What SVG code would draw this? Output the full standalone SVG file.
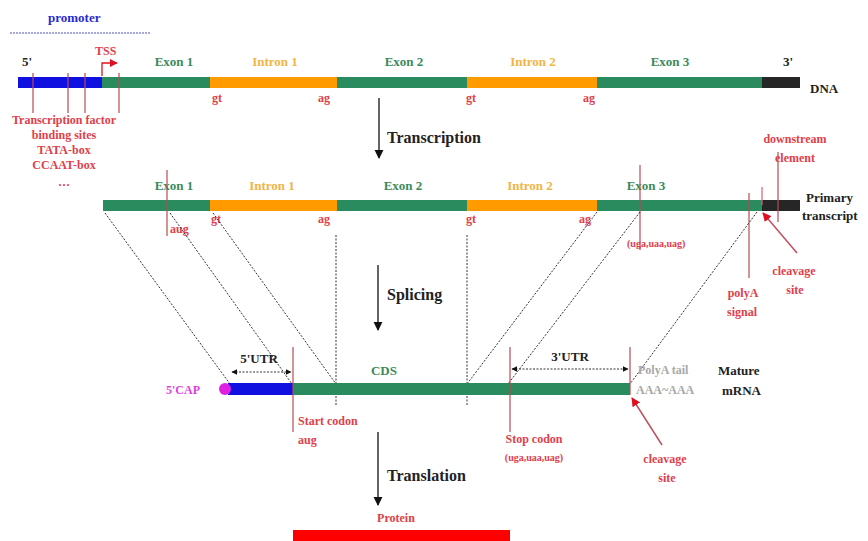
<svg xmlns="http://www.w3.org/2000/svg" width="868" height="541" viewBox="0 0 868 541">
<defs>
<style>
text{font-family:"Liberation Serif","Times New Roman",serif;font-weight:bold}
.ex{fill:#3a8a5c;font-size:13px;text-anchor:middle}
.in{fill:#f2b445;font-size:13px;text-anchor:middle}
.rd{fill:#e0404a;font-size:12px}
.sm{fill:#e0404a;font-size:10px}
.bk{fill:#222;font-size:13px}
.big{fill:#222;font-size:16px}
.g{fill:#2a8c5e}.o{fill:#ff9a00}.b{fill:#1010e0}.k{fill:#262626}
.vl{stroke:#b84a55;stroke-width:1.2;fill:none}
.dt{stroke:#333;stroke-width:1;stroke-dasharray:2 1.5;fill:none}
.ar{stroke:#111;stroke-width:1.3;fill:none}
</style>
<marker id="ah" viewBox="0 0 10 10" refX="9" refY="5" markerWidth="7" markerHeight="9" orient="auto"><path d="M0,0L10,5L0,10z" fill="#111"/></marker>
<marker id="ra" viewBox="0 0 10 10" refX="9" refY="5" markerWidth="6" markerHeight="6" orient="auto"><path d="M0,0L10,5L0,10z" fill="#e01020"/></marker>
<marker id="da" viewBox="0 0 10 10" refX="9" refY="5" markerWidth="6" markerHeight="6" orient="auto-start-reverse"><path d="M0,0L10,5L0,10z" fill="#111"/></marker>
</defs>

<g id="promoter">
<text x="48" y="22" fill="#2a2ad0" font-size="13">promoter</text>
<line x1="10" y1="33" x2="150" y2="33" stroke="#5050c0" stroke-width="1" stroke-dasharray="2 1"/>
</g>

<g id="dna">
<rect x="18" y="77" width="84" height="11" class="b"/>
<rect x="102" y="77" width="108" height="11" class="g"/>
<rect x="210" y="77" width="127" height="11" class="o"/>
<rect x="337" y="77" width="130" height="11" class="g"/>
<rect x="467" y="77" width="130" height="11" class="o"/>
<rect x="597" y="77" width="165" height="11" class="g"/>
<rect x="762" y="77" width="38" height="11" class="k"/>
<text x="22" y="66" class="bk">5'</text>
<text x="783" y="66" class="bk">3'</text>
<text x="810" y="93" class="bk">DNA</text>
<text x="174" y="66" class="ex">Exon 1</text>
<text x="275" y="66" class="in">Intron 1</text>
<text x="404" y="66" class="ex">Exon 2</text>
<text x="533" y="66" class="in">Intron 2</text>
<text x="670" y="66" class="ex">Exon 3</text>
<text x="212" y="102" class="rd">gt</text>
<text x="318" y="102" class="rd">ag</text>
<text x="466" y="102" class="rd">gt</text>
<text x="583" y="102" class="rd">ag</text>
</g>

<g id="tss">
<text x="95" y="55" class="rd">TSS</text>
<path d="M102,76V63H117" stroke="#e01020" stroke-width="1.3" fill="none" marker-end="url(#ra)"/>
</g>

<g id="promoter-elements">
<line x1="33" y1="73" x2="33" y2="113" class="vl"/>
<line x1="68" y1="73" x2="68" y2="113" class="vl"/>
<line x1="85" y1="73" x2="85" y2="113" class="vl"/>
<line x1="119" y1="73" x2="119" y2="113" class="vl"/>
<text x="64" y="124" class="rd" text-anchor="middle" font-size="11">Transcription factor</text>
<text x="64" y="139" class="rd" text-anchor="middle" font-size="11">binding sites</text>
<text x="64" y="154" class="rd" text-anchor="middle" font-size="11">TATA-box</text>
<text x="64" y="169" class="rd" text-anchor="middle" font-size="11">CCAAT-box</text>
<text x="64" y="186" class="rd" text-anchor="middle" font-size="11">…</text>
</g>

<g id="transcription">
<line x1="379" y1="98" x2="379" y2="158" class="ar" marker-end="url(#ah)"/>
<text x="387" y="143" class="big">Transcription</text>
</g>

<g id="primary-transcript">
<rect x="103" y="200" width="107" height="11" class="g"/>
<rect x="210" y="200" width="127" height="11" class="o"/>
<rect x="337" y="200" width="130" height="11" class="g"/>
<rect x="467" y="200" width="130" height="11" class="o"/>
<rect x="597" y="200" width="165" height="11" class="g"/>
<rect x="762" y="200" width="38" height="11" class="k"/>
<text x="174" y="190" class="ex">Exon 1</text>
<text x="272" y="190" class="in">Intron 1</text>
<text x="403" y="190" class="ex">Exon 2</text>
<text x="530" y="190" class="in">Intron 2</text>
<text x="646" y="190" class="ex">Exon 3</text>
<text x="806" y="202" class="bk">Primary</text>
<text x="802" y="220" class="bk">transcript</text>
<text x="211" y="223" class="rd">gt</text>
<text x="318" y="223" class="rd">ag</text>
<text x="466" y="223" class="rd">gt</text>
<text x="579" y="223" class="rd">ag</text>
<line x1="167" y1="170" x2="167" y2="236" class="vl"/>
<text x="170" y="233" class="rd">aug</text>
<line x1="640" y1="165" x2="640" y2="250" class="vl"/>
<text x="627" y="247" class="sm">(uga,uaa,uag)</text>
<text x="795" y="143" class="rd" text-anchor="middle">downstream</text>
<text x="795" y="162" class="rd" text-anchor="middle">element</text>
<line x1="778" y1="152" x2="778" y2="222" class="vl"/>
<line x1="749" y1="193" x2="749" y2="278" class="vl"/>
<text x="743" y="297" class="rd" text-anchor="middle">polyA</text>
<text x="742" y="316" class="rd" text-anchor="middle">signal</text>
<line x1="762" y1="187" x2="762" y2="205" stroke="#e06070" stroke-width="1.2"/>
<line x1="797" y1="253" x2="763" y2="213" stroke="#c05060" stroke-width="1.5" marker-end="url(#ra)"/>
<text x="794" y="275" class="rd" text-anchor="middle">cleavage</text>
<text x="795" y="294" class="rd" text-anchor="middle">site</text>
</g>

<g id="connectors">
<line x1="105" y1="213" x2="230" y2="384" class="dt"/>
<line x1="170" y1="213" x2="292" y2="384" class="dt"/>
<line x1="213" y1="213" x2="336" y2="384" class="dt"/>
<line x1="336" y1="235" x2="336" y2="406" class="dt"/>
<line x1="467" y1="235" x2="467" y2="406" class="dt"/>
<line x1="597" y1="212" x2="467" y2="384" class="dt"/>
<line x1="640" y1="212" x2="508" y2="384" class="dt"/>
<line x1="757" y1="212" x2="630" y2="384" class="dt"/>
</g>

<g id="splicing">
<line x1="378" y1="265" x2="378" y2="330" class="ar" marker-end="url(#ah)"/>
<text x="387" y="300" class="big">Splicing</text>
</g>

<g id="mature-mrna">
<rect x="228" y="383" width="65" height="12" class="b"/>
<rect x="293" y="383" width="337" height="12" class="g"/>
<circle cx="225" cy="389" r="6" fill="#e020e0"/>
<text x="166" y="394" fill="#e040e0" font-size="12">5'CAP</text>
<text x="384" y="375" class="ex">CDS</text>
<line x1="293" y1="347" x2="293" y2="432" class="vl"/>
<text x="298" y="425" class="rd">Start codon</text>
<text x="298" y="444" class="rd">aug</text>
<line x1="232" y1="372" x2="291" y2="372" class="dt" marker-start="url(#da)" marker-end="url(#da)"/>
<text x="259" y="363" class="bk" text-anchor="middle" font-size="12">5'UTR</text>
<line x1="510" y1="347" x2="510" y2="432" class="vl"/>
<text x="534" y="443" class="rd" text-anchor="middle">Stop codon</text>
<text x="534" y="461" class="sm" text-anchor="middle">(uga,uaa,uag)</text>
<line x1="512" y1="369" x2="628" y2="369" class="dt" marker-start="url(#da)" marker-end="url(#da)"/>
<text x="570" y="361" class="bk" text-anchor="middle" font-size="12">3'UTR</text>
<line x1="630" y1="347" x2="630" y2="395" class="vl"/>
<text x="638" y="374" fill="#a8a8a8" font-size="12">PolyA tail</text>
<text x="636" y="394" fill="#a8a8a8" font-size="12">AAA~AAA</text>
<text x="718" y="375" class="bk">Mature</text>
<text x="722" y="395" class="bk">mRNA</text>
<line x1="662" y1="445" x2="632" y2="398" stroke="#c05060" stroke-width="1.5" marker-end="url(#ra)"/>
<text x="665" y="463" class="rd" text-anchor="middle">cleavage</text>
<text x="667" y="482" class="rd" text-anchor="middle">site</text>
</g>

<g id="translation">
<line x1="378" y1="432" x2="378" y2="505" class="ar" marker-end="url(#ah)"/>
<text x="387" y="481" class="big">Translation</text>
</g>

<g id="protein">
<text x="396" y="522" class="rd" text-anchor="middle">Protein</text>
<rect x="293" y="530" width="217" height="11" fill="#ff0000"/>
</g>
</svg>
